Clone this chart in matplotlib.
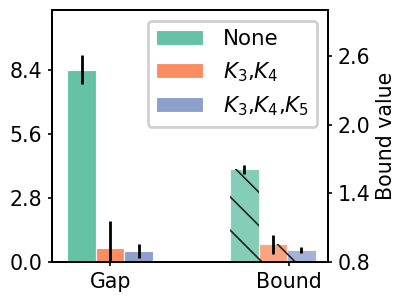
import matplotlib.pyplot as plt

# group names and series
groups = ["Gap", "Bound"]
labels = ["None", "$K_3$,$K_4$", "$K_3$,$K_4$,$K_5$"]
colors = ["#66c2a5", "#fc8d62", "#8da0cb"]

gap_mean = [8.4, 0.61, 0.48]
gap_err = [0.63, 1.18, 0.31]
bound_mean = [1.61, 0.955, 0.905]
bound_err = [0.04, 0.083, 0.027]

plt.rcParams["hatch.linewidth"] = 0.6
fs = 7.4
w = 0.16

fig = plt.figure(figsize=(4.07 / 2, 3.02 / 2), dpi=200)
ax = fig.add_axes([0.1278, 0.1325, 0.678, 0.834])
ax2 = ax.twinx()

for i in range(3):
    ax.bar(0 + (i - 1) * w, gap_mean[i], w, color=colors[i], edgecolor="white",
           linewidth=0.4, label=labels[i], zorder=2)
    ax.errorbar(0 + (i - 1) * w, gap_mean[i], yerr=gap_err[i], fmt="none",
                ecolor="black", elinewidth=1.0, zorder=3)
    x = 1 - 0.09 + (i - 1) * w
    ax2.bar(x, bound_mean[i], w, color=colors[i], alpha=0.8, edgecolor="white",
            linewidth=0.4, zorder=2)
    ax2.bar(x, bound_mean[i] - 0.8, w, bottom=0.8, fill=False, hatch="\\\\",
            edgecolor="#222222", linewidth=0, zorder=2.5)
    ax2.errorbar(x, bound_mean[i], yerr=bound_err[i], fmt="none",
                 ecolor="black", elinewidth=1.0, zorder=3)

ax.set_xlim(-0.325, 1.218)
ax.set_ylim(0, 11.0)
ax2.set_ylim(0.8, 3.0)
ax.set_yticks([0.0, 2.8, 5.6, 8.4])
ax2.set_yticks([0.8, 1.4, 2.0, 2.6])
ax.set_xticks([0, 1])
ax.set_xticklabels(groups)
ax2.set_ylabel("Bound value", fontsize=fs, labelpad=2)

for a in (ax, ax2):
    a.tick_params(labelsize=fs, length=1.6, width=0.6, pad=2.0)
    for s in a.spines.values():
        s.set_linewidth(0.7)

ax.legend(loc="upper right", fontsize=7.7, handlelength=2.2, handletextpad=0.9,
          borderaxespad=0.5, framealpha=1, edgecolor="#d0d0d0")
ax.set_zorder(ax2.get_zorder() + 1)
ax.patch.set_visible(False)

fig.savefig("out.png", dpi=200)
